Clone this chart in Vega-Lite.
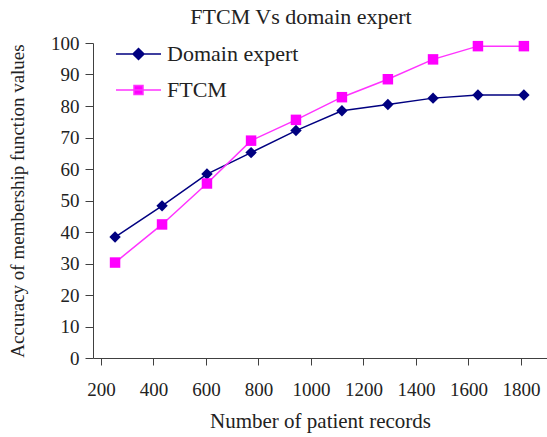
{
  "$schema": "https://vega.github.io/schema/vega-lite/v6.json",
  "width": 454,
  "height": 315,
  "autosize": {"type": "none"},
  "padding": {"left": 93, "top": 43, "right": 0, "bottom": 79},
  "background": "white",
  "config": {
    "view": {"stroke": null},
    "font": "Liberation Serif",
    "axis": {"grid": false, "domainColor": "#404040", "tickColor": "#404040", "labelColor": "#222222", "titleColor": "#222222", "labelFont": "Liberation Serif", "titleFont": "Liberation Serif", "titleFontWeight": "normal"}
  },
  "title": {"text": "FTCM Vs domain expert", "font": "Liberation Serif", "fontSize": 22, "fontWeight": "normal", "color": "#222222", "anchor": "middle", "dx": -19, "offset": 5},
  "data": {"values": [
    {"records": 254, "series": "Domain expert", "value": 38.4},
    {"records": 433, "series": "Domain expert", "value": 48.3},
    {"records": 604, "series": "Domain expert", "value": 58.4},
    {"records": 772, "series": "Domain expert", "value": 65.2},
    {"records": 943, "series": "Domain expert", "value": 72.2},
    {"records": 1118, "series": "Domain expert", "value": 78.5},
    {"records": 1293, "series": "Domain expert", "value": 80.5},
    {"records": 1465, "series": "Domain expert", "value": 82.5},
    {"records": 1636, "series": "Domain expert", "value": 83.5},
    {"records": 1811, "series": "Domain expert", "value": 83.5},
    {"records": 254, "series": "FTCM", "value": 30.3},
    {"records": 433, "series": "FTCM", "value": 42.4},
    {"records": 604, "series": "FTCM", "value": 55.4},
    {"records": 772, "series": "FTCM", "value": 69},
    {"records": 943, "series": "FTCM", "value": 75.6},
    {"records": 1118, "series": "FTCM", "value": 82.8},
    {"records": 1293, "series": "FTCM", "value": 88.5},
    {"records": 1465, "series": "FTCM", "value": 94.8},
    {"records": 1636, "series": "FTCM", "value": 99},
    {"records": 1811, "series": "FTCM", "value": 99}
  ]},
  "encoding": {
    "x": {"field": "records", "type": "quantitative",
      "scale": {"domain": [170, 1899], "nice": false, "zero": false},
      "axis": {"values": [200, 400, 600, 800, 1000, 1200, 1400, 1600, 1800], "title": "Number of patient records", "labelFontSize": 19, "titleFontSize": 21, "tickSize": 7, "labelPadding": 15, "titlePadding": 11, "labelFlush": false, "labelOverlap": false, "format": "d"}},
    "y": {"field": "value", "type": "quantitative",
      "scale": {"domain": [0, 100], "nice": false},
      "axis": {"values": [0, 10, 20, 30, 40, 50, 60, 70, 80, 90, 100], "title": "Accuracy of membership function values", "labelFontSize": 19, "titleFontSize": 19, "tickSize": 8, "labelPadding": 6, "titlePadding": 23}}
  },
  "layer": [
    {
      "mark": {"type": "line", "strokeWidth": 1.5},
      "encoding": {
        "color": {"field": "series", "type": "nominal",
          "scale": {"domain": ["Domain expert", "FTCM"], "range": ["#000080", "#ff33ff"]},
          "legend": {
            "title": null, "orient": "none", "legendX": 22, "legendY": 0, "padding": 0,
            "labelFont": "Liberation Serif", "labelFontSize": 22, "labelColor": "#222222",
            "symbolSize": 400, "labelOffset": 30, "rowPadding": 14, "symbolStrokeWidth": 1.5,
            "encode": {"symbols": {"update": {
              "shape": {"signal": "datum.value === 'FTCM' ? 'M-1,0L3.5,0M0.8,-0.45L1.7,-0.45L1.7,0.45L0.8,0.45Z' : 'M-1,0L3.5,0M1.25,-0.55L1.8,0L1.25,0.55L0.7,0Z'"},
              "fill": {"signal": "datum.value === 'FTCM' ? '#ff00ff' : '#000080'"},
              "stroke": {"signal": "datum.value === 'FTCM' ? '#ff33ff' : '#000080'"},
              "strokeWidth": {"value": 1.5},
              "fillOpacity": {"value": 1},
              "strokeOpacity": {"value": 1},
              "opacity": {"value": 1}
            }}}
          }}
      }
    },
    {
      "transform": [{"filter": "datum.series === 'Domain expert'"}],
      "mark": {"type": "point", "filled": true, "opacity": 1, "shape": "diamond", "color": "#000080", "size": 130}
    },
    {
      "transform": [{"filter": "datum.series === 'FTCM'"}],
      "mark": {"type": "point", "filled": true, "opacity": 1, "shape": "square", "color": "#ff00ff", "size": 110}
    }
  ]
}
